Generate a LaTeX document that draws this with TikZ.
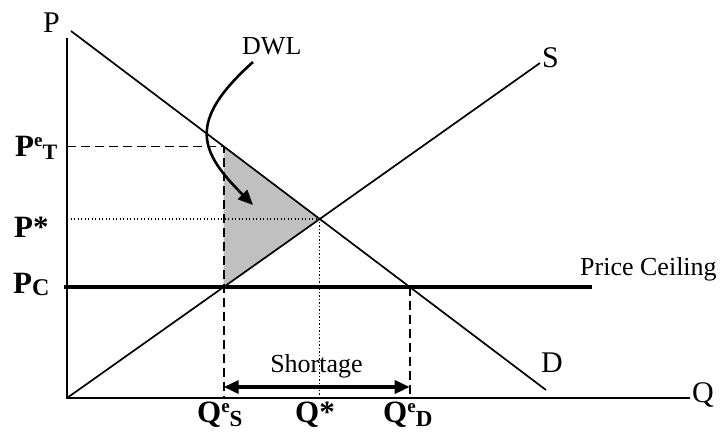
\documentclass[tikz,border=0pt]{standalone}
\usepackage{fontspec}
\setmainfont{Liberation Serif}
\usetikzlibrary{arrows.meta}
\definecolor{dwlgray}{RGB}{192,192,192}
\newcommand{\supe}{\raisebox{10pt}{\fontsize{19}{19}\selectfont e}}
\newcommand{\subl}[3][3pt]{\raisebox{-#1}{\fontsize{#2}{#2}\selectfont #3}}

\begin{document}
\begin{tikzpicture}[x=1pt,y=-1pt,
  axisline/.style={line width=1.8pt},
  econline/.style={line width=1.7pt},
  ceiling/.style={line width=4pt},
  guide/.style={line width=1.7pt,dash pattern=on 9pt off 5pt},
  dotguide/.style={line width=1.3pt,dash pattern=on 1.3pt off 2.2pt},
  txt/.style={inner sep=0pt,anchor=base west,font=\fontsize{26}{26}\selectfont},
  lbl/.style={inner sep=0pt,anchor=base west,font=\fontsize{30}{30}\selectfont},
  blbl/.style={inner sep=0pt,anchor=base west,font=\fontsize{31}{31}\selectfont\bfseries},
  flow/.style={-{Triangle[length=15pt,width=13pt]},line width=2.6pt},
  span/.style={{Triangle[length=15pt,width=13pt]}-{Triangle[length=15pt,width=13pt]},line width=3.5pt}]
\useasboundingbox (0,0) rectangle (720,433);
% axes and curves
\coordinate (O) at (67,398);
\coordinate (Ptop) at (67,38);
\coordinate (Qend) at (690,398);
\coordinate (Dtop) at (71,31);
\coordinate (Dbot) at (546,390);
\coordinate (Stop) at (540,63);
\coordinate (PCl) at (64,287);
\coordinate (PCr) at (592,287);
\coordinate (E) at (intersection of Dtop--Dbot and O--Stop);
\coordinate (Qs) at (intersection of O--Stop and PCl--PCr);
\coordinate (Qd) at (intersection of Dtop--Dbot and PCl--PCr);
\coordinate (QsTop) at (Qs |- Ptop);
\coordinate (T) at (intersection of Dtop--Dbot and Qs--QsTop);
\coordinate (sh) at (0,387);
\fill[dwlgray] (T) -- (E) -- (Qs) -- cycle;
\draw[guide] (T -| O) -- (T) -- (T |- O);
\draw[guide] (Qd) -- (Qd |- O);
\draw[dotguide] (E -| O) -- (E) -- (E |- O);
\draw[axisline] (Ptop) -- (O) -- (Qend);
\draw[econline] (Dtop) -- (Dbot);
\draw[econline] (O) -- (Stop);
\draw[ceiling] (PCl) -- (PCr);
% labels
\node[lbl] (p) at (43,33) {P};
\node[lbl] (q) at (692,402) {Q};
\node[lbl] (s) at (542,68) {S};
\node[lbl] (d) at (541,372) {D};
\node[txt] (pcl) at (580,275) {Price Ceiling};
\node[txt] (dwl) at (242,55) {DWL};
\node[txt,anchor=base] (short) at (316.5,372) {Shortage};
\node[blbl] (pet) at (15,157) {P\supe\subl{22}{T}};
\node[blbl] (pstar) at (14,237) {P*};
\node[blbl] (pc) at (13,293) {P\subl[2pt]{24}{C}};
\node[blbl] (qes) at (197,422) {Q\supe\subl[4pt]{23}{S}};
\node[blbl] (qstar) at (295,422) {Q*};
\node[blbl] (qed) at (383,422) {Q\supe\subl[4pt]{23}{D}};
% arrows
\coordinate (dwlstart) at (253,62);
\coordinate (dwltip) at (253,205);
\draw[flow] (dwlstart) .. controls (186,122) and (200,152) .. (dwltip);
\draw[span] (Qs |- sh) -- (Qd |- sh);
\end{tikzpicture}
\end{document}
